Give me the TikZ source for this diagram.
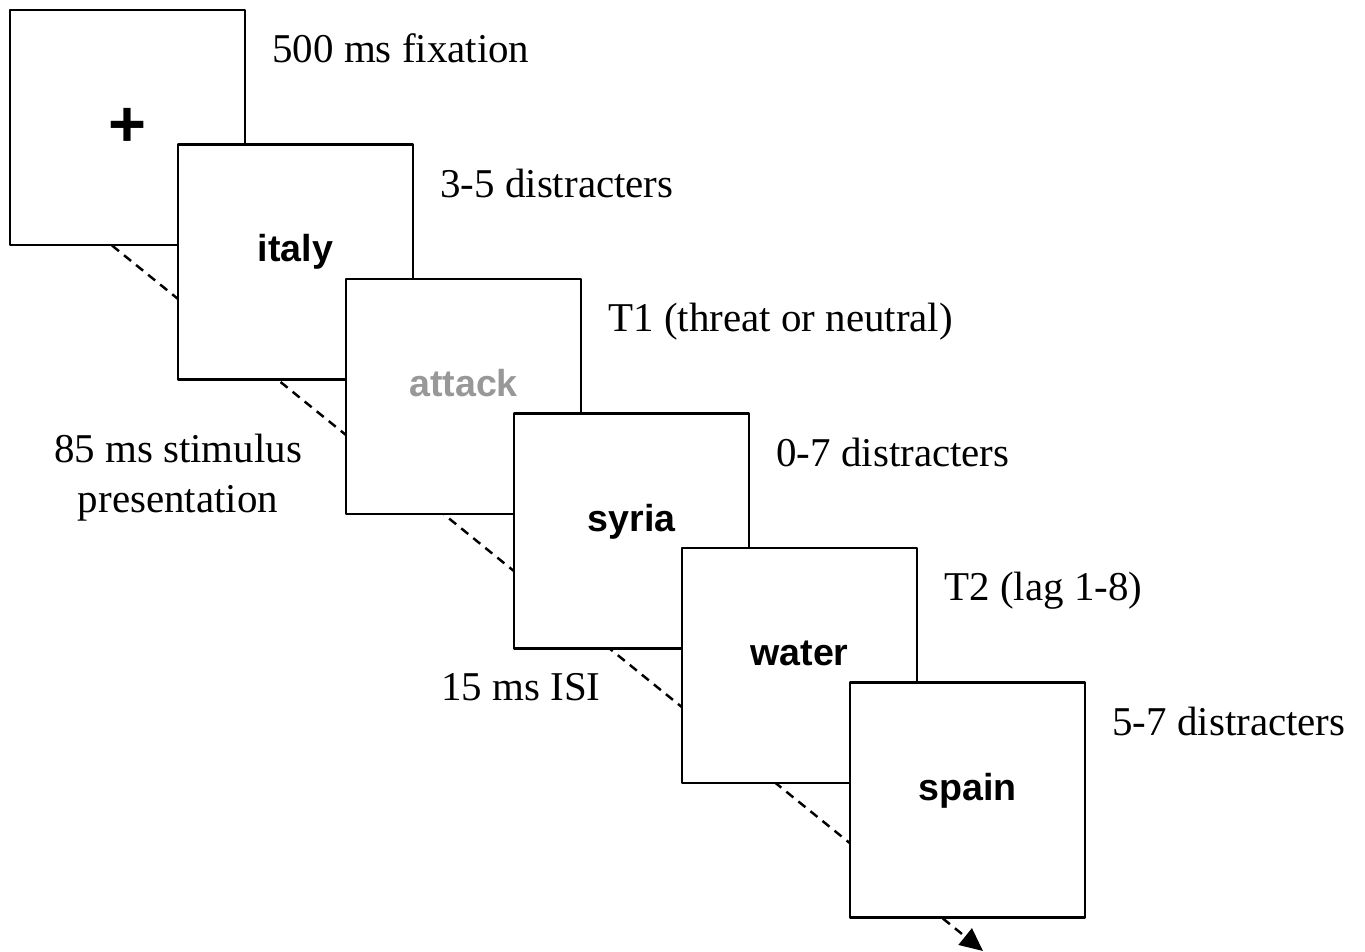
\documentclass[tikz,border=0pt]{standalone}
\usepackage{fontspec}
\setmainfont{Liberation Serif}
\newfontfamily\wordfont{Liberation Sans}
\usetikzlibrary{calc,arrows.meta}
\definecolor{wordgray}{RGB}{152,152,152}
\begin{document}
\begin{tikzpicture}[x=0.02cm, y=-0.02cm, line join=round,
		screen/.style={draw, fill=white, line width=1.4pt, minimum size=4.7cm, inner sep=0pt},
		word/.style={font=\wordfont\bfseries\fontsize{21.4}{24}\selectfont, anchor=base},
		lbl/.style={font=\fontsize{23.3}{28}\selectfont, anchor=base west}]
		\useasboundingbox (0,0) rectangle (1365,952);
		% dashed time line (behind the screens)
		\coordinate (start) at (112,245.5);
		\coordinate (end) at (983,951);
		\draw[line width=1.4pt, dash pattern=on 0.18cm off 0.13cm, -{Triangle[length=0.46cm,width=0.42cm]}] (start)--(end);
		% screens
		\foreach \k in {0,...,5}
			\node[screen] (b\k) at ({127.5+168*\k},{127.5+134.5*\k}) {};
		\node[font=\wordfont\bfseries\fontsize{37}{40}\selectfont] (fix) at (b0.center) {+};
		\foreach \k/\w/\c in {1/italy/black,2/attack/wordgray,3/syria/black,4/water/black,5/spain/black}
			\node[word, text=\c] (w\k) at (b\k.center) {\w};
		% labels
		\foreach \k/\txt in {0/500 ms fixation,1/3-5 distracters,2/T1 (threat or neutral),3/0-7 distracters,4/T2 (lag 1-8),5/5-7 distracters}
			\node[lbl] (l\k) at ($(b\k.north east)+(20,54)$) {\txt};
		\node[lbl, anchor=base, align=center] (stim) at (178,512) {85 ms stimulus\\presentation};
		\node[lbl, anchor=base] (isi) at (521,700) {15 ms ISI};
	\end{tikzpicture}
\end{document}
